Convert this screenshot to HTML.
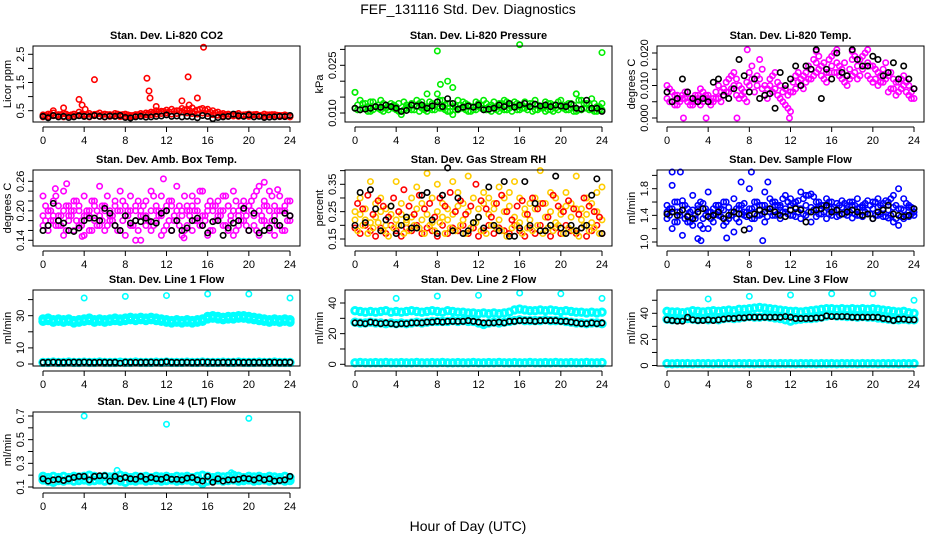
<!DOCTYPE html>
<html><head><meta charset="utf-8"><style>
html,body{margin:0;padding:0;background:#fff;}
svg{display:block;font-family:"Liberation Sans",sans-serif;}
</style></head><body>
<svg id="chart" width="936" height="540" viewBox="0 0 936 540" xmlns="http://www.w3.org/2000/svg">
<text x="468" y="14" text-anchor="middle" font-size="14">FEF_131116  Std. Dev. Diagnostics</text>
<text x="468" y="531" text-anchor="middle" font-size="14">Hour of Day (UTC)</text>
</svg>
<script>
const hours=[0,0.5,1,1.5,2,2.5,3,3.5,4,4.5,5,5.5,6,6.5,7,7.5,8,8.5,9,9.5,10,10.5,11,11.5,12,12.5,13,13.5,14,14.5,15,15.5,16,16.5,17,17.5,18,18.5,19,19.5,20,20.5,21,21.5,22,22.5,23,23.5,24];
const hoursQ=[0.25,0.75,1.25,1.75,2.25,2.75,3.25,3.75,4.25,4.75,5.25,5.75,6.25,6.75,7.25,7.75,8.25,8.75,9.25,9.75,10.25,10.75,11.25,11.75,12.25,12.75,13.25,13.75,14.25,14.75,15.25,15.75,16.25,16.75,17.25,17.75,18.25,18.75,19.25,19.75,20.25,20.75,21.25,21.75,22.25,22.75,23.25,23.75];
const xTicks=[0,4,8,12,16,20,24];
// CO2
const co2A=[0.35,0.38,0.42,0.36,0.40,0.33,0.38,0.45,0.35,0.40,0.37,0.42,0.38,0.36,0.40,0.35,0.38,0.33,0.36,0.40,0.42,0.45,0.50,0.48,0.52,0.55,0.50,0.58,0.55,0.60,0.52,0.58,0.55,0.50,0.45,0.40,0.38,0.36,0.40,0.35,0.38,0.36,0.33,0.38,0.35,0.36,0.33,0.35,0.30];
const co2B=[0.28,0.30,0.32,0.30,0.28,0.32,0.30,0.33,0.30,0.28,0.32,0.30,0.28,0.30,0.32,0.29,0.30,0.28,0.31,0.32,0.35,0.36,0.38,0.40,0.42,0.38,0.40,0.45,0.42,0.40,0.38,0.42,0.40,0.36,0.34,0.32,0.30,0.31,0.30,0.32,0.30,0.29,0.31,0.30,0.28,0.30,0.29,0.30,0.28];
const co2C=[0.34,0.37,0.33,0.36,0.38,0.35,0.34,0.37,0.36,0.34,0.38,0.35,0.36,0.34,0.38,0.36,0.35,0.33,0.36,0.37,0.40,0.42,0.45,0.47,0.46,0.48,0.50,0.52,0.50,0.48,0.55,0.52,0.45,0.42,0.38,0.36,0.35,0.37,0.34,0.36,0.35,0.37,0.34,0.35,0.36,0.34,0.33,0.32];
const co2OutH=[1,2,3.5,3.8,4.1,5,10.1,10.3,10.4,11,13.5,14.1,14.2,15,15.6];
const co2OutV=[0.5,0.6,0.9,0.7,0.55,1.6,1.65,1.2,0.95,0.65,0.85,1.7,0.7,0.95,2.75];
const co2Blk=[0.30,0.25,0.33,0.28,0.30,0.26,0.28,0.32,0.30,0.29,0.33,0.30,0.28,0.31,0.30,0.33,0.26,0.24,0.28,0.30,0.27,0.28,0.30,0.31,0.35,0.30,0.31,0.28,0.30,0.28,0.25,0.33,0.30,0.22,0.26,0.28,0.30,0.38,0.32,0.30,0.35,0.28,0.30,0.26,0.27,0.28,0.30,0.29,0.33];
// Pressure
const prA=[0.0165,0.014,0.013,0.0135,0.012,0.014,0.0125,0.013,0.012,0.0095,0.0125,0.013,0.014,0.0135,0.012,0.013,0.016,0.014,0.013,0.012,0.014,0.0135,0.0125,0.012,0.013,0.014,0.012,0.0135,0.013,0.014,0.0125,0.0135,0.012,0.0135,0.013,0.014,0.012,0.0135,0.013,0.0125,0.014,0.0125,0.013,0.016,0.014,0.013,0.0145,0.012,0.013];
const prB=[0.0115,0.011,0.0115,0.0105,0.012,0.011,0.0115,0.012,0.011,0.0105,0.0115,0.011,0.012,0.0115,0.0105,0.011,0.012,0.0115,0.0105,0.0095,0.011,0.0115,0.0105,0.011,0.012,0.0115,0.011,0.0115,0.0105,0.011,0.0115,0.012,0.011,0.0115,0.012,0.011,0.0115,0.0105,0.011,0.0115,0.012,0.011,0.0115,0.0105,0.011,0.0115,0.011,0.0105,0.011];
const prC=[0.0125,0.013,0.012,0.0135,0.0125,0.013,0.012,0.0125,0.013,0.0135,0.012,0.0125,0.013,0.012,0.0135,0.0125,0.014,0.0125,0.013,0.012,0.0125,0.013,0.012,0.0135,0.0125,0.013,0.0125,0.012,0.013,0.0135,0.0125,0.013,0.0125,0.012,0.013,0.0125,0.012,0.013,0.0125,0.0135,0.012,0.013,0.0125,0.014,0.013,0.0125,0.013,0.012];
const prD=[0.011,0.0115,0.0105,0.011,0.0115,0.0105,0.011,0.0115,0.0105,0.011,0.0115,0.011,0.0105,0.011,0.0115,0.011,0.0115,0.011,0.0105,0.011,0.0115,0.011,0.0105,0.011,0.0115,0.011,0.0105,0.011,0.0115,0.011,0.0105,0.011,0.0115,0.011,0.0105,0.011,0.0115,0.011,0.0105,0.011,0.0115,0.011,0.0105,0.011,0.0115,0.011,0.0105,0.011];
const prOutH=[0,7,8,8.3,9,9.5,16,21.5,24];
const prOutV=[0.0165,0.016,0.0295,0.019,0.02,0.018,0.0315,0.016,0.029];
const prBlk=[0.0115,0.011,0.0112,0.0115,0.012,0.0118,0.0125,0.012,0.0115,0.0105,0.0108,0.0125,0.0122,0.0125,0.0115,0.0122,0.0135,0.012,0.0145,0.013,0.0112,0.0118,0.0122,0.0118,0.0125,0.011,0.0112,0.0115,0.0125,0.012,0.013,0.0118,0.0125,0.013,0.012,0.0128,0.0122,0.0125,0.012,0.0125,0.0122,0.012,0.0128,0.0115,0.0112,0.014,0.0115,0.0115,0.0105];
// Li-820 Temp
const tmA=[0.010,0.008,0.007,0.006,0.008,0.005,0.007,0.008,0.006,0.005,0.010,0.007,0.012,0.014,0.010,0.008,0.014,0.012,0.018,0.010,0.012,0.014,0.010,0.009,0.008,0.013,0.012,0.014,0.015,0.017,0.016,0.014,0.019,0.017,0.015,0.013,0.018,0.016,0.019,0.017,0.016,0.014,0.015,0.013,0.012,0.011,0.013,0.010,0.009];
const tmB=[0.006,0.005,0.004,0.007,0.005,0.004,0.006,0.005,0.007,0.006,0.006,0.009,0.008,0.010,0.006,0.006,0.010,0.008,0.012,0.007,0.010,0.009,0.006,0.004,0.002,0.009,0.010,0.011,0.012,0.014,0.013,0.011,0.016,0.014,0.012,0.010,0.013,0.012,0.015,0.013,0.011,0.010,0.011,0.008,0.009,0.008,0.010,0.007,0.006];
const tmC=[0.009,0.007,0.006,0.008,0.006,0.007,0.009,0.006,0.005,0.008,0.008,0.011,0.013,0.012,0.009,0.011,0.016,0.013,0.015,0.009,0.013,0.011,0.008,0.007,0.011,0.014,0.013,0.016,0.018,0.019,0.017,0.018,0.020,0.016,0.017,0.015,0.019,0.018,0.020,0.016,0.015,0.013,0.017,0.014,0.011,0.012,0.011,0.008];
const tmD=[0.005,0.004,0.005,0.006,0.004,0.005,0.004,0.007,0.004,0.006,0.005,0.008,0.009,0.007,0.007,0.005,0.012,0.010,0.009,0.006,0.008,0.007,0.005,0.003,0.008,0.011,0.009,0.012,0.013,0.015,0.012,0.014,0.014,0.013,0.011,0.012,0.014,0.013,0.016,0.012,0.012,0.011,0.012,0.009,0.007,0.009,0.008,0.006];
const tmOutH=[1.6,3.8,6.8,11.9,7.8,16.5,19.5,14.5,18];
const tmOutV=[0,0,0,0,0.021,0.021,0.021,0.0205,0.0205];
const tmBlk=[0.008,0.005,0.006,0.012,0.008,0.006,0.005,0.006,0.005,0.011,0.012,0.007,0.006,0.009,0.018,0.013,0.008,0.012,0.006,0.007,0.0075,0.003,0.014,0.010,0.012,0.016,0.010,0.016,0.015,0.021,0.006,0.015,0.012,0.020,0.014,0.013,0.021,0.018,0.016,0.016,0.019,0.018,0.013,0.014,0.017,0.012,0.016,0.012,0.009];
// Amb box temp
const abA=[0.23,0.20,0.22,0.19,0.24,0.21,0.22,0.20,0.23,0.19,0.22,0.25,0.21,0.20,0.22,0.24,0.21,0.23,0.20,0.19,0.22,0.24,0.20,0.23,0.21,0.22,0.25,0.20,0.21,0.23,0.22,0.24,0.21,0.20,0.22,0.23,0.21,0.24,0.20,0.22,0.21,0.23,0.25,0.22,0.24,0.21,0.23,0.20,0.22];
const abB=[0.17,0.16,0.18,0.17,0.15,0.18,0.16,0.17,0.15,0.16,0.18,0.17,0.16,0.18,0.17,0.16,0.15,0.17,0.18,0.14,0.17,0.16,0.18,0.15,0.17,0.16,0.18,0.15,0.17,0.16,0.18,0.17,0.15,0.16,0.18,0.17,0.16,0.15,0.17,0.18,0.16,0.17,0.15,0.18,0.16,0.15,0.17,0.16,0.18];
const abC=[0.19,0.20,0.19,0.21,0.20,0.19,0.20,0.21,0.19,0.20,0.21,0.19,0.20,0.19,0.21,0.20,0.19,0.20,0.21,0.20,0.19,0.20,0.21,0.19,0.20,0.21,0.20,0.19,0.20,0.21,0.20,0.19,0.20,0.21,0.19,0.20,0.21,0.20,0.19,0.20,0.21,0.19,0.20,0.21,0.20,0.19,0.20,0.21,0.19];
const abD=[0.21,0.18,0.23,0.17,0.21,0.19,0.22,0.18,0.2,0.22,0.17,0.21,0.23,0.18,0.2,0.22,0.19,0.17,0.22,0.21,0.18,0.23,0.19,0.2,0.22,0.18,0.21,0.23,0.19,0.2,0.24,0.18,0.22,0.21,0.19,0.23,0.18,0.22,0.21,0.19,0.22,0.24,0.18,0.21,0.23,0.17,0.2,0.22];
const abE=[0.18,0.2,0.17,0.19,0.16,0.2,0.18,0.17,0.19,0.16,0.2,0.18,0.17,0.19,0.16,0.18,0.2,0.17,0.16,0.19,0.18,0.17,0.2,0.16,0.18,0.19,0.17,0.16,0.2,0.18,0.17,0.19,0.16,0.18,0.2,0.17,0.19,0.16,0.18,0.17,0.2,0.16,0.19,0.17,0.18,0.2,0.16,0.18];
const abOutH=[1.2,2.3,9,11.7,21.5,22.8,13.7,3.8];
const abOutV=[0.245,0.255,0.14,0.265,0.258,0.243,0.145,0.148];
const abBlk=[0.16,0.17,0.215,0.18,0.175,0.16,0.158,0.165,0.18,0.185,0.185,0.18,0.205,0.195,0.17,0.16,0.19,0.175,0.18,0.178,0.185,0.178,0.175,0.195,0.2,0.16,0.18,0.16,0.165,0.18,0.185,0.17,0.155,0.178,0.18,0.15,0.165,0.175,0.18,0.205,0.16,0.195,0.155,0.16,0.165,0.18,0.17,0.195,0.19];
// Gas stream RH
const rhA=[0.25,0.30,0.22,0.36,0.28,0.30,0.26,0.24,0.36,0.28,0.22,0.30,0.34,0.28,0.39,0.30,0.35,0.28,0.26,0.36,0.32,0.28,0.38,0.30,0.26,0.32,0.30,0.28,0.34,0.30,0.32,0.36,0.30,0.26,0.28,0.30,0.40,0.28,0.32,0.30,0.26,0.32,0.28,0.38,0.26,0.30,0.28,0.32,0.34];
const rhB=[0.19,0.17,0.20,0.18,0.16,0.19,0.17,0.20,0.18,0.16,0.19,0.18,0.20,0.17,0.19,0.18,0.16,0.20,0.17,0.19,0.18,0.20,0.17,0.19,0.16,0.18,0.20,0.17,0.19,0.18,0.17,0.20,0.18,0.16,0.19,0.17,0.20,0.18,0.16,0.19,0.17,0.20,0.18,0.17,0.19,0.16,0.18,0.20,0.17];
const rhC=[0.22,0.24,0.26,0.21,0.23,0.25,0.20,0.27,0.22,0.24,0.21,0.23,0.26,0.22,0.24,0.21,0.25,0.23,0.22,0.24,0.27,0.22,0.25,0.21,0.23,0.28,0.24,0.26,0.22,0.25,0.27,0.23,0.21,0.24,0.22,0.26,0.28,0.23,0.25,0.21,0.24,0.27,0.23,0.26,0.22,0.24,0.21,0.25,0.22];
const rhD=[0.18,0.2,0.17,0.19,0.21,0.18,0.16,0.19,0.2,0.17,0.18,0.2,0.19,0.17,0.2,0.18,0.21,0.17,0.19,0.18,0.2,0.17,0.19,0.21,0.18,0.17,0.2,0.19,0.18,0.16,0.19,0.2,0.17,0.19,0.18,0.2,0.17,0.19,0.18,0.2,0.17,0.19,0.18,0.16,0.2,0.18,0.19,0.17];
const rhE=[0.28,0.26,0.31,0.24,0.29,0.27,0.23,0.3,0.25,0.33,0.27,0.24,0.31,0.26,0.28,0.23,0.3,0.27,0.32,0.25,0.29,0.24,0.27,0.35,0.29,0.26,0.23,0.28,0.31,0.25,0.22,0.27,0.29,0.24,0.3,0.26,0.28,0.23,0.31,0.27,0.25,0.29,0.26,0.24,0.3,0.27,0.25,0.23];
const rhBlk=[0.2,0.32,0.21,0.33,0.26,0.18,0.22,0.27,0.17,0.2,0.23,0.19,0.19,0.31,0.32,0.22,0.17,0.31,0.41,0.18,0.3,0.17,0.18,0.21,0.23,0.19,0.34,0.2,0.18,0.36,0.16,0.16,0.19,0.36,0.20,0.28,0.18,0.18,0.2,0.38,0.19,0.17,0.2,0.18,0.19,0.2,0.31,0.37,0.17];
// Sample flow
const sfA=[1.45,1.85,1.60,1.55,1.30,1.70,1.50,1.20,1.75,1.40,1.55,1.60,1.35,1.65,1.50,1.45,1.80,1.60,1.55,1.75,1.65,1.60,1.55,1.70,1.65,1.60,1.75,1.70,1.72,1.60,1.55,1.65,1.60,1.58,1.62,1.55,1.60,1.65,1.55,1.62,1.60,1.65,1.58,1.60,1.70,1.80,1.65,1.55,1.50];
const sfB=[1.35,1.20,1.30,1.10,1.40,1.25,1.05,1.35,1.20,1.30,1.40,1.25,1.35,1.15,1.30,1.40,1.20,1.35,1.40,1.30,1.45,1.40,1.35,1.45,1.40,1.38,1.35,1.40,1.30,1.38,1.42,1.35,1.40,1.38,1.42,1.40,1.36,1.40,1.38,1.42,1.35,1.40,1.38,1.36,1.30,1.25,1.35,1.38,1.40];
const sfC=[1.55,1.50,1.45,1.62,1.50,1.48,1.55,1.58,1.45,1.50,1.55,1.48,1.52,1.45,1.55,1.58,1.50,1.52,1.48,1.55,1.50,1.55,1.52,1.50,1.55,1.52,1.50,1.55,1.52,1.50,1.55,1.52,1.50,1.48,1.52,1.50,1.55,1.50,1.52,1.48,1.50,1.52,1.50,1.48,1.52,1.50,1.48,1.52,1.45];
const sfD=[1.5,1.6,1.4,1.55,1.45,1.35,1.6,1.5,1.45,1.55,1.5,1.6,1.45,1.5,1.55,1.45,1.5,1.6,1.55,1.5,1.6,1.55,1.65,1.6,1.58,1.62,1.65,1.7,1.68,1.6,1.55,1.6,1.52,1.55,1.58,1.6,1.55,1.52,1.58,1.55,1.6,1.55,1.62,1.65,1.55,1.5,1.58,1.52];
const sfE=[1.4,1.3,1.45,1.35,1.3,1.4,1.25,1.4,1.35,1.42,1.38,1.3,1.4,1.35,1.42,1.38,1.35,1.4,1.42,1.38,1.4,1.42,1.45,1.42,1.4,1.45,1.42,1.45,1.48,1.42,1.45,1.42,1.45,1.4,1.42,1.45,1.42,1.4,1.45,1.42,1.4,1.42,1.38,1.4,1.35,1.38,1.4,1.42];
const sfOutH=[0.5,1.3,8.2,9.3,3.3,5.8,7.2,9.8];
const sfOutV=[2.05,2.05,2.05,1.02,1.02,1.06,1.9,1.9];
const sfBlk=[1.42,1.45,1.40,1.48,1.38,1.35,1.45,1.50,1.38,1.40,1.45,1.35,1.40,1.45,1.42,1.18,1.40,1.42,1.48,1.45,1.50,1.45,1.40,1.38,1.48,1.50,1.48,1.30,1.45,1.48,1.50,1.55,1.45,1.48,1.42,1.45,1.48,1.45,1.40,1.42,1.35,1.45,1.48,1.55,1.42,1.40,1.38,1.40,1.50];
// Line 1
const l1A=[28,28.5,27.5,28,27.5,28,27,27.5,28,28.5,27.5,28,27.5,28,28.5,28,28.5,29,28.5,29,28.5,29,28.5,28,27.5,27,27.5,27,27.5,27,27.5,28,29.5,30,29.5,29,29.5,29.5,30,30,29.5,29,28.5,28,27.5,28,27.5,28,27.5];
const l1B=[26.5,27,26,26.5,26,26.5,25.5,26,26.5,27,26,26.5,26,26.5,27,26.5,27,27.5,27,27.5,27,27.5,27,26.5,26,25.5,26,25.5,26,25.5,26,26.5,28,28.5,28,27.5,28,28,28.5,28.5,28,27.5,27,26.5,26,26.5,26,26.5,26];
const l1Low=[1,1,1.2,1,1,1.2,1,1,1.1,1,1,1.2,1,1,1,1.1,1,1,1.2,1,1,1,1.1,1,1.2,1,1,1,1.1,1,1,1.2,1,1,1,1.1,1,1,1.2,1,1,1,1.1,1,1,1.2,1,1,1];
const l1Blk=[1,1.1,1.2,1.1,1,1.1,1.2,1.1,1.2,1.1,1,1.1,1.1,1,1.1,0.5,1.2,1.1,1,1.1,1.1,1.2,1,1.1,1.4,1.1,1,1.1,1.1,1,1.1,1.2,1.2,1.1,1,1.1,1.1,1.2,1.1,1,1.1,1.1,1,1.1,1.2,1.1,1,1.1,1.1];
const l1OutH=[4,8,12,16,20,24];
const l1OutV=[41,42,42.5,43.5,43.5,41];
// Line 2
const l2A=[35,34.5,34,34.5,34,34.5,35,34,34.5,34,34.5,35,34.5,34,34.5,35,34.5,34,35,34.5,34,34,33.5,33.5,33,33.5,33,33.5,33,33.5,34,35.5,36,35.5,35,35,35.5,35,35.5,35,34.5,35,34.5,34,34,33.5,34,33.5,34];
const l2Mid=[27.5,27,27,27.5,27,27,26.5,27,26.5,27,26.5,27,27.5,27,27.5,28,28,28,28,28.5,28,28.5,28,28,27,26,27,27.5,27,27.5,28,28.5,29,28.5,28.5,28.5,28.5,29,28.5,28.5,28.5,28,27.5,27,27,26.5,27,27,26.5];
const l2Low=[1,1.2,1,1,1.1,1,1.2,1,1,1.1,1,1,1.2,1,1,1.1,1,1.2,1,1,1.1,1,1,1.2,1,1,1.1,1,1.2,1,1,1.1,1,1,1.2,1,1,1.1,1,1.2,1,1,1.1,1,1,1.2,1,1,1.1];
const l2Blk=[27,27,26.5,27.5,27,26.5,27,26.5,26,26.5,26.5,27,27,27,27.5,27.5,28,27.5,28,28,28,28,28.5,28,27.5,27,27,27,27.5,27,28,28,28.5,28.5,28.5,28,28.5,28.5,28.5,28.5,28,28,27.5,27,26.5,26.5,27,26.5,27];
const l2OutH=[4,8,12,16,20,24];
const l2OutV=[43,44.5,45,46.5,46,43];
// Line 3
const l3A=[41.5,41,41,40.5,41,42,41.5,41,41.5,42,41.5,42,42.5,42,43,43,43.5,44,44.5,44,43.5,43,42.5,42,41.5,41.5,41,41.5,42,42.5,43,43.5,43.5,43,43.5,43,43.5,43,43.5,43,43.5,43,42.5,42,41.5,41,41.5,40.5,40];
const l3Mid=[35.5,35,35,35.5,36,35.5,35,35.5,35,35.5,35,36,36.5,36,36.5,37,37.5,37,37,37.5,37,36.5,36,35,34,35,35.5,36,36,36.5,37,38,38.5,38,38,37.5,37.5,37,37.5,37,37,36.5,36,35.5,35,35,35.5,35,35];
const l3Low=[1.5,1.3,1.5,1.4,1.5,1.3,1.5,1.4,1.5,1.3,1.5,1.4,1.5,1.3,1.5,1.4,1.5,1.3,1.5,1.4,1.5,1.3,1.5,1.4,1.5,1.3,1.5,1.4,1.5,1.3,1.5,1.4,1.5,1.3,1.5,1.4,1.5,1.3,1.5,1.4,1.5,1.3,1.5,1.4,1.5,1.3,1.5,1.4,1.5];
const l3Blk=[35,34.5,34,34,37,35,34.5,34.5,35,34.5,35,35.5,36,36,36.5,36.5,37,37,37,37,37,37,37,37.5,37,36,36,36,36,36.5,36.5,38,37.5,37.5,37.5,37.5,37,37,37,37,37,37,36,35.5,34.5,35.5,35.5,35,35];
const l3OutH=[4,8,12,16,20,24];
const l3OutV=[51,53,54,55,55,50];
// Line 4
const l4A=[0.19,0.18,0.19,0.18,0.19,0.18,0.19,0.185,0.19,0.2,0.19,0.18,0.19,0.185,0.19,0.2,0.19,0.18,0.19,0.185,0.19,0.18,0.19,0.185,0.19,0.18,0.19,0.185,0.19,0.18,0.19,0.2,0.19,0.18,0.19,0.185,0.19,0.2,0.19,0.18,0.19,0.185,0.19,0.18,0.19,0.185,0.18,0.19,0.18];
const l4B=[0.16,0.15,0.14,0.155,0.15,0.16,0.15,0.155,0.16,0.15,0.155,0.16,0.15,0.155,0.16,0.15,0.14,0.155,0.15,0.16,0.15,0.155,0.16,0.15,0.155,0.16,0.15,0.155,0.16,0.15,0.155,0.13,0.15,0.155,0.16,0.15,0.155,0.16,0.15,0.155,0.16,0.15,0.155,0.16,0.15,0.155,0.16,0.15,0.155];
const l4OutH=[4,12,20,7.2,15.5,18.3];
const l4OutV=[0.7,0.63,0.68,0.24,0.12,0.22];
const l4Blk=[0.17,0.15,0.16,0.165,0.155,0.17,0.18,0.19,0.19,0.16,0.19,0.195,0.195,0.15,0.19,0.17,0.18,0.17,0.165,0.19,0.165,0.18,0.17,0.165,0.18,0.165,0.165,0.16,0.175,0.18,0.16,0.15,0.19,0.14,0.17,0.15,0.16,0.16,0.165,0.175,0.17,0.16,0.175,0.16,0.17,0.15,0.155,0.16,0.19];

const NS='http://www.w3.org/2000/svg';
const svg=document.getElementById('chart');
function mk(tag,attrs,parent){const e=document.createElementNS(NS,tag);for(const k in attrs)e.setAttribute(k,attrs[k]);(parent||svg).appendChild(e);return e;}
const cols=[33,345,657], rows=[46,170,290,412], W=267, H=76;

function panel(cfg){
  const L=cols[cfg.c], T=rows[cfg.r], R=L+W, B=T+H;
  const g=mk('g',{});
  
  
  const xS=v=>L+10+v*(W-20)/24;
  const yS=v=>cfg.p0+(v-cfg.v0)*(cfg.p1-cfg.p0)/(cfg.v1-cfg.v0);
  const ti=mk('text',{x:L+W/2,y:T-7,'text-anchor':'middle','font-size':'11','font-weight':'bold'},g);
  ti.textContent=cfg.title;
  
  
  const cg=mk('g',{},g);
  
  
  cfg.series.forEach(s=>{
    const band=!!s.band;
    s.y.forEach((v,i)=>{
      const c=mk('circle',{cx:xS(s.x[i]),cy:yS(v),r:band?3.2:2.7,fill:'none',stroke:s.col,'stroke-width':band?3:1.6},cg);
      
      
    });
  });
  const bx=mk('rect',{x:L,y:T,width:W,height:H,fill:'none',stroke:'#000','stroke-width':1},g);
  
  
  mk('line',{x1:xS(0),x2:xS(24),y1:B+5,y2:B+5,stroke:'#000'},g);
  xTicks.forEach(t=>{
    mk('line',{x1:xS(t),x2:xS(t),y1:B+5,y2:B+10,stroke:'#000'},g);
    const tx=mk('text',{x:xS(t),y:B+22,'text-anchor':'middle','font-size':'11'},g);
    tx.textContent=t;
    
    
  });
  cfg.yt.forEach(t=>{
    const y=yS(t);
    mk('line',{x1:L-5,x2:L,y1:y,y2:y,stroke:'#000'},g);
  });
  cfg.yl.forEach((lab,i)=>{
    const y=yS(cfg.ylv[i]);
    const tx=mk('text',{x:0,y:0,transform:`translate(${L-9},${y}) rotate(-90)`,'text-anchor':'middle','font-size':'11'},g);
    tx.textContent=lab;
    
    
  });
  const at=mk('text',{x:0,y:0,transform:`translate(${L-22},${T+H/2}) rotate(-90)`,'text-anchor':'middle','font-size':'11'},g);
  at.textContent=cfg.ylab;
  
  
}
const RED='#ff0000',GRN='#00ee00',MAG='#ff00ff',BLU='#0000ff',CYN='#00ffff',BLK='#000000',YEL='#ffcc00';
panel({name:'panel-co2',c:0,r:0,title:'Stan. Dev. Li-820 CO2',ylab:'Licor ppm',v0:0.5,p0:110.7,v1:2.5,p1:54.3,
 yt:[0.5,1,1.5,2,2.5],ylv:[0.5,1.5,2.5],yl:['0.5','1.5','2.5'],
 series:[{x:hours,y:co2A,col:RED},{x:hours,y:co2B,col:RED},{x:hoursQ,y:co2C,col:RED},{x:co2OutH,y:co2OutV,col:RED},{x:hours,y:co2Blk,col:BLK}]});
panel({name:'panel-pressure',c:1,r:0,title:'Stan. Dev. Li-820 Pressure',ylab:'kPa',v0:0.010,p0:113,v1:0.025,p1:65.3,
 yt:[0.010,0.015,0.020,0.025,0.030],ylv:[0.010,0.025],yl:['0.010','0.025'],
 series:[{x:hours,y:prA,col:GRN},{x:hours,y:prB,col:GRN},{x:hoursQ,y:prC,col:GRN},{x:hoursQ,y:prD,col:GRN},{x:prOutH,y:prOutV,col:GRN},{x:hours,y:prBlk,col:BLK}]});
panel({name:'panel-li820-temp',c:2,r:0,title:'Stan. Dev. Li-820 Temp.',ylab:'degrees C',v0:0,p0:118,v1:0.020,p1:53,
 yt:[0,0.005,0.010,0.015,0.020],ylv:[0,0.010,0.020],yl:['0.000','0.010','0.020'],
 series:[{x:hours,y:tmA,col:MAG},{x:hours,y:tmB,col:MAG},{x:hoursQ,y:tmC,col:MAG},{x:hoursQ,y:tmD,col:MAG},{x:tmOutH,y:tmOutV,col:MAG},{x:hours,y:tmBlk,col:BLK}]});
panel({name:'panel-amb-box-temp',c:0,r:1,title:'Stan. Dev. Amb. Box Temp.',ylab:'degrees C',v0:0.14,p0:240.3,v1:0.26,p1:181.3,
 yt:[0.14,0.16,0.18,0.20,0.22,0.24,0.26],ylv:[0.14,0.20,0.26],yl:['0.14','0.20','0.26'],
 series:[{x:hours,y:abA,col:MAG},{x:hours,y:abB,col:MAG},{x:hours,y:abC,col:MAG},{x:hoursQ,y:abD,col:MAG},{x:hoursQ,y:abE,col:MAG},{x:abOutH,y:abOutV,col:MAG},{x:hours,y:abBlk,col:BLK}]});
panel({name:'panel-gas-stream-rh',c:1,r:1,title:'Stan. Dev. Gas Stream RH',ylab:'percent',v0:0.15,p0:239,v1:0.35,p1:184.3,
 yt:[0.15,0.20,0.25,0.30,0.35,0.40],ylv:[0.15,0.25,0.35],yl:['0.15','0.25','0.35'],
 series:[{x:hours,y:rhA,col:YEL},{x:hours,y:rhB,col:RED},{x:hours,y:rhC,col:YEL},{x:hoursQ,y:rhD,col:YEL},{x:hoursQ,y:rhE,col:RED},{x:hours,y:rhBlk,col:BLK}]});
panel({name:'panel-sample-flow',c:2,r:1,title:'Stan. Dev. Sample Flow',ylab:'ml/min',v0:1.0,p0:242,v1:1.8,p1:188.7,
 yt:[1.0,1.2,1.4,1.6,1.8,2.0],ylv:[1.0,1.4,1.8],yl:['1.0','1.4','1.8'],
 series:[{x:hours,y:sfA,col:BLU},{x:hours,y:sfB,col:BLU},{x:hours,y:sfC,col:BLU},{x:hoursQ,y:sfD,col:BLU},{x:hoursQ,y:sfE,col:BLU},{x:sfOutH,y:sfOutV,col:BLU},{x:hours,y:sfBlk,col:BLK}]});
panel({name:'panel-line1-flow',c:0,r:2,title:'Stan. Dev. Line 1 Flow',ylab:'ml/min',v0:0,p0:364,v1:30,p1:315.7,
 yt:[0,10,20,30,40],ylv:[0,10,30],yl:['0','10','30'],
 series:[{x:hours,y:l1A,col:CYN,band:1},{x:hours,y:l1B,col:CYN,band:1},{x:hours,y:l1Low,col:CYN,band:1},{x:l1OutH,y:l1OutV,col:CYN},{x:hours,y:l1Blk,col:BLK}]});
panel({name:'panel-line2-flow',c:1,r:2,title:'Stan. Dev. Line 2 Flow',ylab:'ml/min',v0:0,p0:364.3,v1:40,p1:303,
 yt:[0,10,20,30,40],ylv:[0,20,40],yl:['0','20','40'],
 series:[{x:hours,y:l2A,col:CYN,band:1},{x:hours,y:l2Mid,col:CYN,band:1},{x:hours,y:l2Low,col:CYN,band:1},{x:l2OutH,y:l2OutV,col:CYN},{x:hours,y:l2Blk,col:BLK}]});
panel({name:'panel-line3-flow',c:2,r:2,title:'Stan. Dev. Line 3 Flow',ylab:'ml/min',v0:0,p0:365.5,v1:40,p1:313.3,
 yt:[0,10,20,30,40,50],ylv:[0,20,40],yl:['0','20','40'],
 series:[{x:hours,y:l3A,col:CYN,band:1},{x:hours,y:l3Mid,col:CYN,band:1},{x:hours,y:l3Low,col:CYN,band:1},{x:l3OutH,y:l3OutV,col:CYN},{x:hours,y:l3Blk,col:BLK}]});
panel({name:'panel-line4-flow',c:0,r:3,title:'Stan. Dev. Line 4 (LT) Flow',ylab:'ml/min',v0:0.1,p0:487,v1:0.7,p1:416,
 yt:[0.1,0.2,0.3,0.4,0.5,0.6,0.7],ylv:[0.1,0.3,0.5,0.7],yl:['0.1','0.3','0.5','0.7'],
 series:[{x:hours,y:l4A,col:CYN,band:1},{x:hours,y:l4B,col:CYN,band:1},{x:l4OutH,y:l4OutV,col:CYN},{x:hours,y:l4Blk,col:BLK}]});
</script>
</body></html>
